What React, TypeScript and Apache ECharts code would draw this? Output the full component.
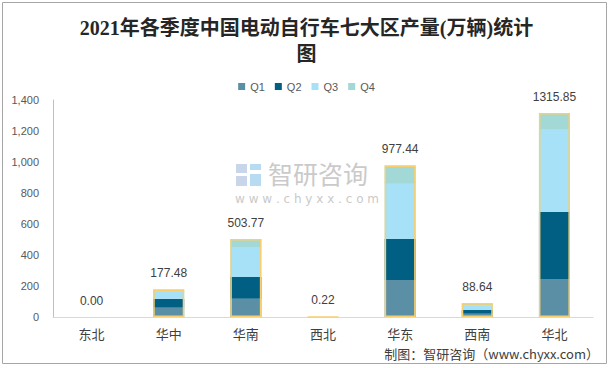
import React, { useEffect, useRef } from "react";
import * as echarts from "echarts";

const categories = ["东北", "华中", "华南", "西北", "华东", "西南", "华北"];
const q1 = [0, 60, 117, 0.06, 239, 21, 245.3];
const q2 = [0, 57, 141, 0.05, 265, 24, 432.6];
const q3 = [0, 46, 194, 0.07, 355, 32, 529.9];
const q4 = [0, 14.48, 51.77, 0.04, 118.44, 11.64, 108.05];
const totals = [0, 177.48, 503.77, 0.22, 977.44, 88.64, 1315.85];
const seriesNames = ["Q1", "Q2", "Q3", "Q4"];
const colors = ["#5b8fa6", "#005f83", "#a6e1f8", "#a2d8d6"];

export default function App() {
  const ref = useRef<HTMLDivElement>(null);
  useEffect(() => {
    document.body.style.margin = "0";
    const chart = echarts.init(ref.current!, undefined, { renderer: "svg" });
    const qData = [q1, q2, q3, q4];
    const series: any[] = qData.map((d, i) => ({
      name: seriesNames[i],
      type: "bar",
      stack: "q",
      barWidth: 31,
      data: d,
      itemStyle: { color: colors[i] },
    }));
    series.push({
      name: "合计",
      type: "bar",
      barGap: "-100%",
      barWidth: 31,
      data: totals.map((v) => (v === 0 ? { value: v, itemStyle: { borderWidth: 0 } } : v)),
      z: 3,
      itemStyle: { color: "rgba(0,0,0,0)", borderColor: "#f7cf6e", borderWidth: 1.5 },
      label: {
        show: true,
        position: "top",
        distance: 10,
        color: "#404040",
        fontSize: 12,
        fontFamily: "Liberation Sans, Arial, sans-serif",
        formatter: (p: any) => Number(p.value).toFixed(2),
      },
    });
    chart.setOption({
      animation: false,
      backgroundColor: "#fff",
      title: {
        text: "2021年各季度中国电动自行车七大区产量(万辆)统计\n图",
        left: "center",
        top: 10,
        textStyle: {
          fontSize: 20,
          fontWeight: "bold",
          color: "#262626",
          lineHeight: 26,
          fontFamily: "Liberation Serif, Noto Sans CJK SC",
        },
      },
      legend: {
        data: seriesNames,
        left: "center",
        top: 76,
        icon: "rect",
        itemWidth: 7,
        itemHeight: 7,
        itemGap: 10,
        textStyle: { color: "#595959", fontSize: 11, fontFamily: "Liberation Sans, Arial, sans-serif" },
      },
      grid: { left: 53, right: 20, top: 100, bottom: 51 },
      xAxis: {
        type: "category",
        data: categories,
        axisTick: { show: false },
        axisLine: { lineStyle: { color: "#d9d9d9" } },
        axisLabel: {
          color: "#404040",
          fontSize: 13,
          margin: 10,
          fontFamily: "Noto Sans CJK SC",
        },
      },
      yAxis: {
        type: "value",
        min: 0,
        max: 1400,
        interval: 200,
        splitLine: { show: false },
        axisLine: { show: true, lineStyle: { color: "#bfbfbf" } },
        axisTick: { show: false },
        axisLabel: {
          color: "#595959",
          fontSize: 11,
          margin: 14,
          fontFamily: "Liberation Sans, Arial, sans-serif",
          formatter: (v: number) => v.toLocaleString("en-US"),
        },
      },
      graphic: [
        {
          type: "rect",
          shape: { x: 2.5, y: 2.5, width: 604, height: 361 },
          style: { fill: "none", stroke: "#a6a6a6", lineWidth: 1 },
          silent: true,
          z: 100,
        },
        { type: "rect", shape: { x: 236, y: 164, width: 11, height: 9 }, style: { fill: "#c9d6ea" }, z: 0 },
        { type: "rect", shape: { x: 236, y: 176, width: 11, height: 10 }, style: { fill: "#c9d6ea" }, z: 0 },
        { type: "rect", shape: { x: 250, y: 164, width: 11, height: 6 }, style: { fill: "#b7dcf2" }, z: 0 },
        { type: "rect", shape: { x: 250, y: 174, width: 11, height: 12 }, style: { fill: "#b7dcf2" }, z: 0 },
        {
          type: "text",
          x: 268,
          y: 173,
          style: {
            text: "智研咨询",
            fill: "#cacaca",
            fontSize: 25,
            fontFamily: "Noto Sans CJK SC",
            verticalAlign: "middle",
            letterSpacing: 2,
          },
          z: 0,
        },
        {
          type: "text",
          x: 235,
          y: 199,
          style: {
            text: "w w w . c h y x x . c o m",
            fill: "#cacaca",
            fontSize: 12,
            fontFamily: "DejaVu Sans",
            verticalAlign: "middle",
          },
          z: 0,
        },
        {
          type: "text",
          right: 14,
          top: 347,
          style: {
            text: "制图：智研咨询（www.chyxx.com）",
            fill: "#404040",
            fontSize: 13,
            fontFamily: "Noto Sans CJK SC",
          },
        },
      ],
      series,
    });
    return () => chart.dispose();
  }, []);
  return <div ref={ref} style={{ position: "fixed", left: 0, top: 0, width: 613, height: 368 }} />;
}
